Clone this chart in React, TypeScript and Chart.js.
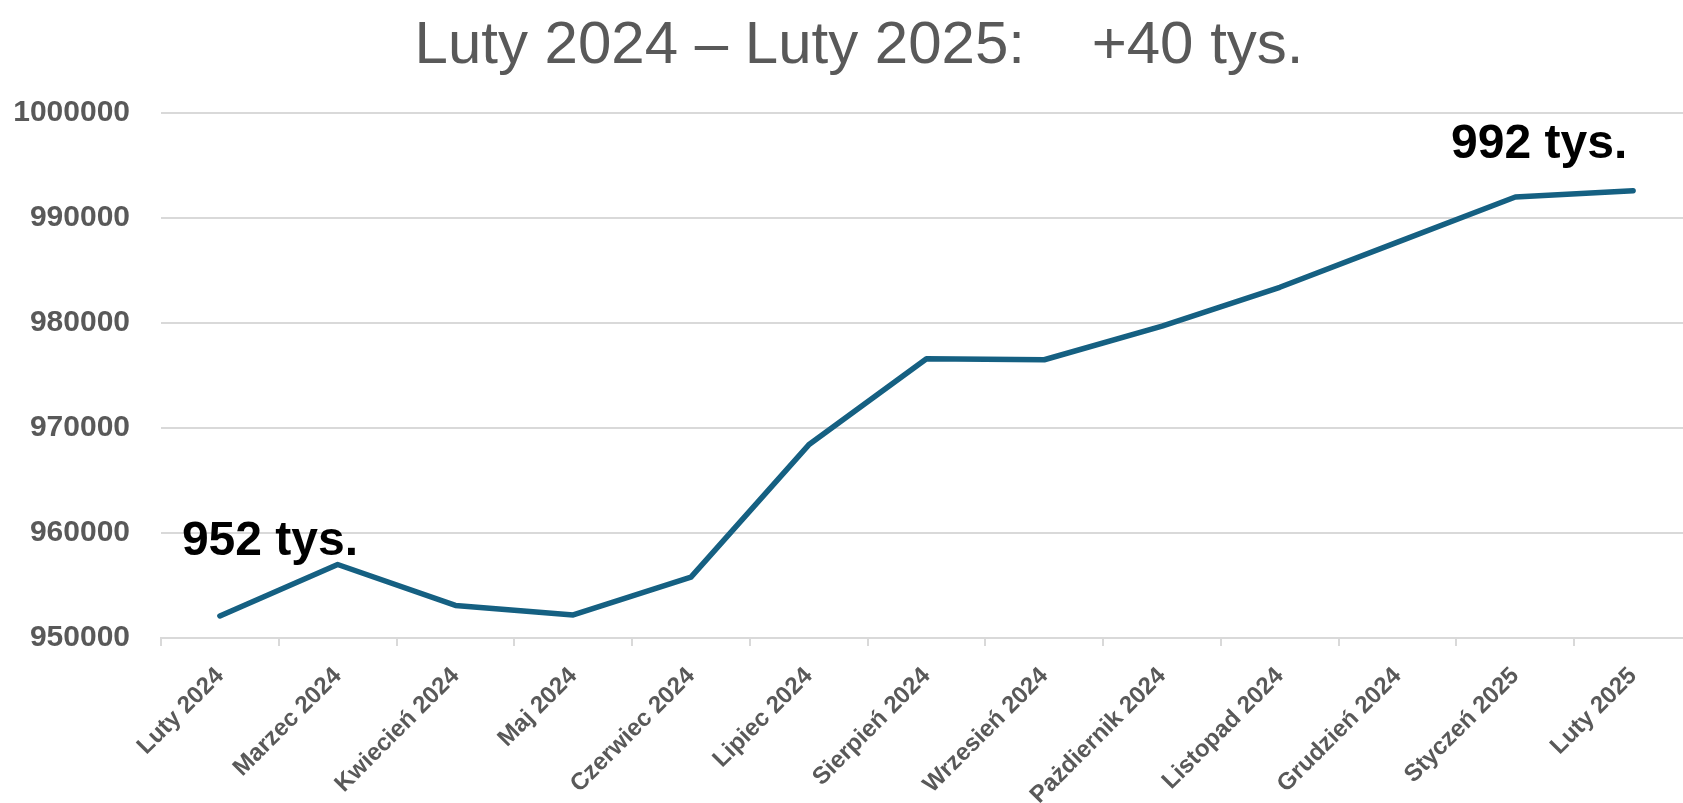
import React, { useEffect, useRef } from "react";
import { Chart, registerables } from "chart.js";

Chart.register(...registerables);

const categories: string[] = [
  "Luty 2024",
  "Marzec 2024",
  "Kwiecień 2024",
  "Maj 2024",
  "Czerwiec 2024",
  "Lipiec 2024",
  "Sierpień 2024",
  "Wrzesień 2024",
  "Pażdiernik 2024",
  "Listopad 2024",
  "Grudzień 2024",
  "Styczeń 2025",
  "Luty 2025",
];

const values: number[] = [
  952100, 957000, 953100, 952200, 955800, 968400, 976600, 976500, 979700,
  983400, 987700, 992000, 992600,
];

const yMin = 950000;
const yMax = 1000000;
const yStep = 10000;

const titleText = "Luty 2024 – Luty 2025:    +40 tys.";

const startLabel = "952 tys.";
const endLabel = "992 tys.";

const GRAY = "#595959";
const GRID = "#d9d9d9";
const LINE = "#156082";
const FONT = "'Liberation Sans', Arial, sans-serif";

const annotationPlugin = {
  id: "pointAnnotations",
  afterDatasetsDraw(chart: any) {
    const meta = chart.getDatasetMeta(0);
    const ctx = chart.ctx;
    const items = [
      { i: 0, text: startLabel, dx: -38, dy: -61 },
      { i: values.length - 1, text: endLabel, dx: -182, dy: -33 },
    ];
    ctx.save();
    ctx.fillStyle = "#000000";
    ctx.font = "bold 48px " + FONT;
    ctx.textBaseline = "alphabetic";
    ctx.textAlign = "left";
    for (const it of items) {
      const p = meta.data[it.i];
      if (!p) continue;
      ctx.fillText(it.text, p.x + it.dx, p.y + it.dy);
    }
    ctx.restore();
  },
};

export default function App() {
  const canvasRef = useRef<HTMLCanvasElement | null>(null);

  useEffect(() => {
    document.body.style.margin = "0";
    document.body.style.overflow = "hidden";
    const canvas = canvasRef.current;
    if (!canvas) return;
    const chart = new Chart(canvas, {
      type: "line",
      data: {
        labels: categories,
        datasets: [
          {
            data: values,
            borderColor: LINE,
            borderWidth: 5.5,
            pointRadius: 0,
            borderCapStyle: "round",
            borderJoinStyle: "round",
            tension: 0,
            fill: false,
            yAxisID: "y",
          },
        ],
      },
      options: {
        responsive: false,
        animation: false,
        devicePixelRatio: 1,
        layout: { padding: 0 },
        plugins: {
          legend: { display: false },
          tooltip: { enabled: false },
          title: {
            display: true,
            text: titleText,
            color: GRAY,
            font: { family: FONT, size: 60, weight: "normal", lineHeight: 1.2 },
            padding: { top: 10, bottom: 31 },
          },
        },
        scales: {
          x: {
            type: "category",
            offset: true,
            afterFit: (s: any) => {
              s.height = 165;
            },
            grid: {
              display: true,
              drawOnChartArea: false,
              drawTicks: true,
              tickLength: 8,
              color: GRID,
              lineWidth: 2,
              offset: true,
            },
            border: { display: true, color: GRID, width: 2 },
            ticks: {
              autoSkip: false,
              maxRotation: 45,
              minRotation: 45,
              color: GRAY,
              padding: 16,
              font: { family: FONT, size: 24, weight: "bold" },
            },
          },
          y: {
            min: yMin,
            max: yMax,
            afterFit: (s: any) => {
              s.width = 161;
            },
            grid: { color: GRID, lineWidth: 2, drawTicks: false },
            border: { display: false },
            ticks: {
              stepSize: yStep,
              padding: 31,
              color: GRAY,
              font: { family: FONT, size: 30, weight: "bold" },
              callback: (v: any) => String(v),
            },
          },
          yRight: {
            position: "right",
            display: true,
            afterFit: (s: any) => {
              s.width = 26;
            },
            grid: { display: false, drawTicks: false },
            border: { display: false },
            ticks: { display: false },
          },
        },
      },
      plugins: [annotationPlugin],
    } as any);
    return () => chart.destroy();
  }, []);

  return (
    <div style={{ width: 1683, height: 803, overflow: "hidden", position: "relative", background: "#ffffff" }}>
      <canvas ref={canvasRef} width={1718} height={803} style={{ display: "block" }} />
    </div>
  );
}
